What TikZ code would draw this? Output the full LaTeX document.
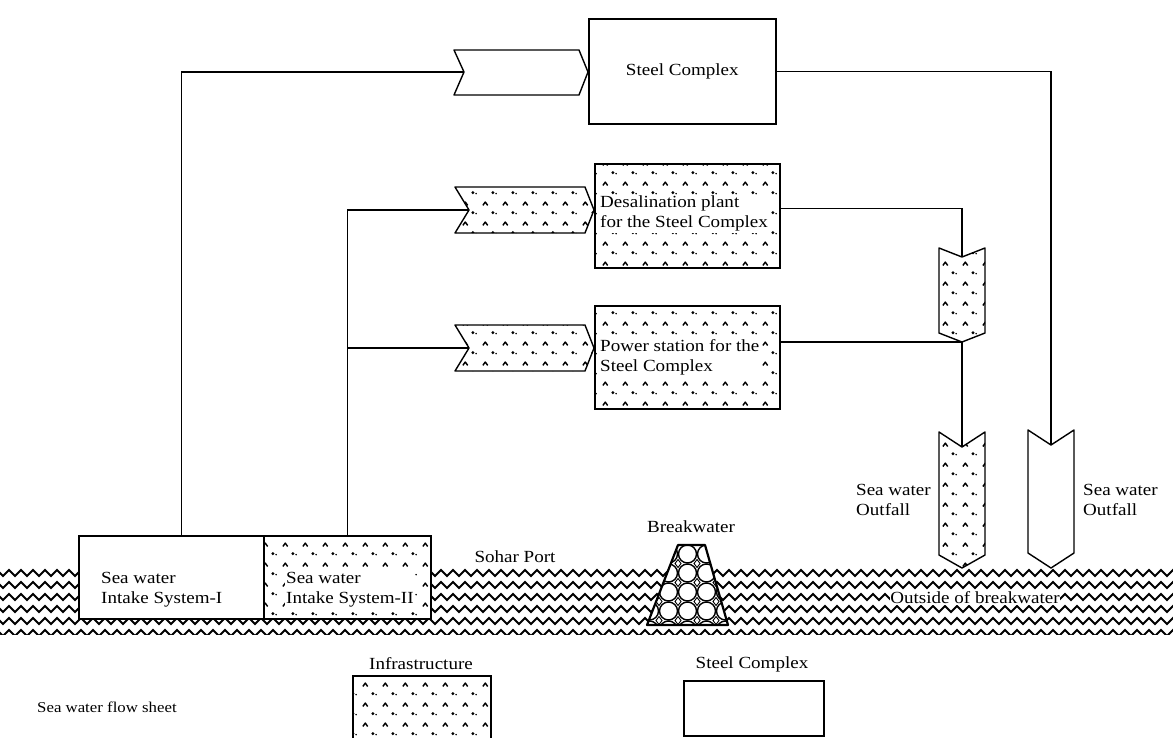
\documentclass[tikz,border=0pt]{standalone}
\usepackage{fontspec}
\setmainfont{Liberation Serif}[FakeStretch=1.12]
\usetikzlibrary{patterns,decorations.pathmorphing}
\pgfdeclarepatternformonly{infra}{\pgfpointorigin}{\pgfpoint{20pt}{20pt}}{\pgfpoint{20pt}{20pt}}{%
  \pgfsetlinewidth{1.5pt}%
  \pgfsetroundjoin
  \pgfpathmoveto{\pgfpoint{3pt}{12pt}}%
  \pgfpathlineto{\pgfpoint{5.5pt}{15.5pt}}%
  \pgfpathlineto{\pgfpoint{8pt}{12pt}}%
  \pgfusepath{stroke}%
  \pgfpathcircle{\pgfpoint{13.5pt}{4.5pt}}{1.7pt}%
  \pgfusepath{fill}%
  \pgfpathcircle{\pgfpoint{16.8pt}{3.5pt}}{0.9pt}%
  \pgfusepath{fill}%
}
\begin{document}
\begin{tikzpicture}[x=1pt,y=-1pt,
  box/.style={draw, line width=1.6pt, fill=white, inner sep=0pt},
  hbox/.style={box, postaction={pattern=infra}},
  chev/.style={draw, line width=1.4pt, fill=white, line join=round},
  hchev/.style={chev, postaction={pattern=infra}},
  flow/.style={line width=1.1pt},
  txt/.style={font=\fontsize{17pt}{20pt}\selectfont, align=left, inner sep=1pt},
  htxt/.style={txt, fill=white},
  wave/.style={line width=1.8pt, decorate, decoration={zigzag, segment length=12pt, amplitude=3pt}}]
\useasboundingbox (0,0) rectangle (1173,737);
\clip (0,0) rectangle (1173,737);
% sea
\begin{scope}
  \clip (0,560) rectangle (1173,634);
  \foreach \r in {573,585,597,609,621,633} \draw[wave] (-6,\r) -- (1185,\r);
\end{scope}
% boxes
\node[box, minimum width=187pt, minimum height=105pt, anchor=north west, font=\fontsize{17pt}{20pt}\selectfont] (steel) at (588,18) {Steel Complex};
\node[hbox, minimum width=185pt, minimum height=104pt, anchor=north west] (desal) at (594,163) {};
\node[htxt, anchor=west] at ([xshift=5pt, yshift=2pt]desal.west) {Desalination plant\\for the Steel Complex};
\node[hbox, minimum width=185pt, minimum height=103pt, anchor=north west] (power) at (594,305) {};
\node[htxt, anchor=west] at ([xshift=5pt]power.west) {Power station for the\\Steel Complex};
\node[box, minimum width=185pt, minimum height=83pt, anchor=north west] (intake1) at (78,535) {};
\node[txt, anchor=west] at ([xshift=22pt, yshift=-12pt]intake1.west) {Sea water\\Intake System-I};
\node[hbox, minimum width=167pt, minimum height=83pt, anchor=north west] (intake2) at (263,535) {};
\node[htxt, anchor=west] at ([xshift=22pt, yshift=-12pt]intake2.west) {Sea water\\Intake System-II};
% chevrons
\draw[chev] (454,50) -- (579,50) -- (588,72) -- (579,95) -- (454,95) -- (464,72) -- cycle;
\coordinate (cs) at (464,72);
\draw[hchev] (455,187) -- (585,187) -- (594,210) -- (585,233) -- (455,233) -- (469,210) -- cycle;
\coordinate (cd) at (469,210);
\draw[hchev] (455,325) -- (585,325) -- (594,348) -- (585,371) -- (455,371) -- (469,348) -- cycle;
\coordinate (cp) at (469,348);
\draw[hchev] (939,248) -- (962,257) -- (985,248) -- (985,333) -- (962,342) -- (939,333) -- cycle;
\coordinate (sn) at (962,257);
\coordinate (sp) at (962,342);
\draw[hchev] (939,432) -- (962,447) -- (985,432) -- (985,555) -- (962,568) -- (939,555) -- cycle;
\coordinate (o1n) at (962,447);
\draw[chev] (1028,430) -- (1051,445) -- (1074,430) -- (1074,553) -- (1051,568) -- (1028,553) -- cycle;
\coordinate (o2n) at (1051,445);
% connectors
\draw[flow] ([xshift=10pt]intake1.north) |- (cs);
\draw[flow] (intake2.north) |- (cd);
\draw[flow] (intake2.north |- cp) -- (cp);
\draw[flow] ([yshift=7pt]desal.east) -| (sn);
\draw[flow] (power.east |- sp) -- (sp);
\draw[flow] (sp) -- (o1n);
\draw[flow] (steel.east) -| (o2n);
% breakwater
\begin{scope}
  \clip (647,625) -- (678,545) -- (705,545) -- (728,625) -- cycle;
  \fill[white] (640,540) rectangle (735,630);
  \foreach \i in {0,...,4} \foreach \j in {0,...,4} {
    \draw[line width=1.4pt] (649.5+19*\i, 554+19*\j) circle[radius=9pt];
    \draw[line width=0.9pt] (659+19*\i, 559.5+19*\j) -- (662+19*\i, 563.5+19*\j) -- (659+19*\i, 567.5+19*\j) -- (656+19*\i, 563.5+19*\j) -- cycle;
  }
\end{scope}
\draw[line width=2.2pt, line join=round] (647,625) -- (678,545) -- (705,545) -- (728,625) -- cycle;
\node[txt] (bwl) at (691,527) {Breakwater};
% labels
\node[txt, anchor=west] (lo1) at (855,500) {Sea water\\Outfall};
\node[txt, anchor=west] (lo2) at (1082,500) {Sea water\\Outfall};
\node[txt, fill=white, inner sep=0.5pt] (lsp) at (515,557) {Sohar Port};
\node[txt, fill=white, inner sep=0.5pt] (lob) at (975,598) {Outside of breakwater};
% legend
\node[txt] (linf) at (421,664) {Infrastructure};
\node[hbox, minimum width=138pt, minimum height=70pt, anchor=north west] (legi) at (352,675) {};
\node[txt] (lst) at (752,664) {Steel Complex};
\node[box, minimum width=140pt, minimum height=55pt, anchor=north west] (legs) at (683,680) {};
\node[txt, anchor=west, font=\fontsize{15pt}{18pt}\selectfont] (ttl) at (36,707) {Sea water flow sheet};
\end{tikzpicture}
\end{document}
